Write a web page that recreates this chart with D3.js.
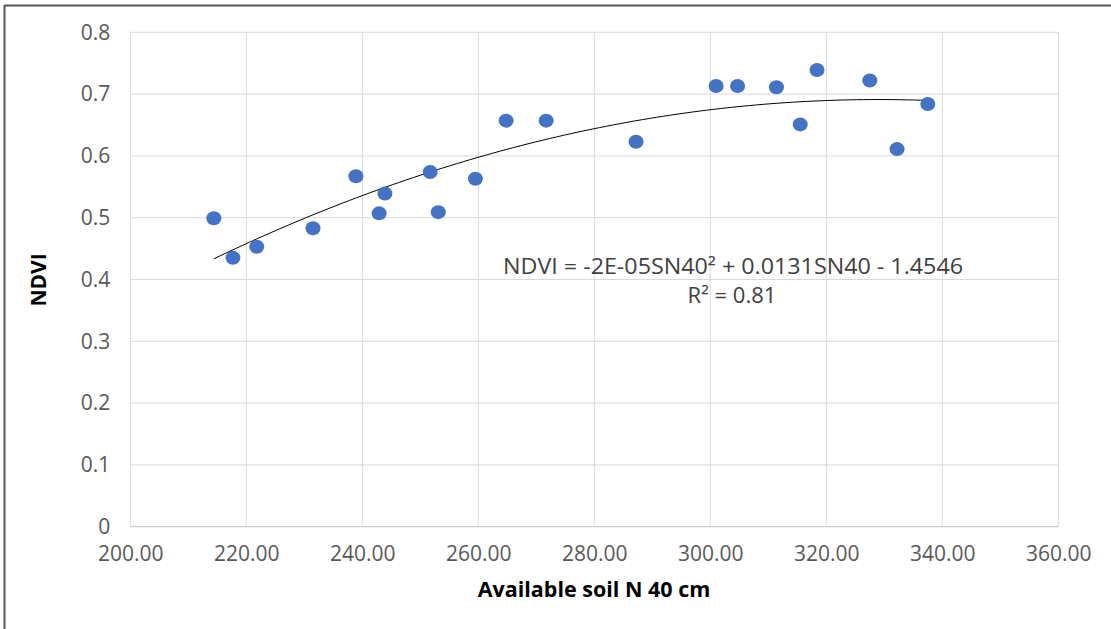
<!DOCTYPE html>
<html>
<head>
<meta charset="utf-8">
<script src="https://cdn.jsdelivr.net/npm/d3@7"></script>
<style>
body { margin: 0; background: #fff; }
text { font-family: "Open Sans", sans-serif; }
</style>
</head>
<body>
<script>
// data
var soilN = [214.4, 217.7, 221.8, 231.5, 238.9, 242.9, 243.9, 251.7, 253.1, 259.5,
             264.8, 271.7, 287.2, 301.0, 304.7, 311.4, 315.5, 318.4, 327.5, 332.2, 337.5];
var ndvi  = [0.499, 0.435, 0.453, 0.483, 0.567, 0.507, 0.539, 0.574, 0.509, 0.563,
             0.657, 0.657, 0.623, 0.713, 0.713, 0.711, 0.651, 0.739, 0.722, 0.611, 0.684];
var xTicks = [200, 220, 240, 260, 280, 300, 320, 340, 360];
var yTicks = [0, 0.1, 0.2, 0.3, 0.4, 0.5, 0.6, 0.7, 0.8];
var eqLabel = "NDVI = -2E-05SN40² + 0.0131SN40 - 1.4546";
var r2Label = "R² = 0.81";

var WIDTH = 1111, HEIGHT = 629;
var margin = {left: 130.3, top: 32.3, right: 1111 - 1058.3, bottom: 629 - 526.7};

var svg = d3.select("body").append("svg")
    .attr("width", WIDTH)
    .attr("height", HEIGHT);

// frame (top and left only, like the screenshot)
svg.append("line").attr("x1", 4.5).attr("x2", WIDTH).attr("y1", 5.5).attr("y2", 5.5)
   .attr("stroke", "#555").attr("stroke-width", 2);
svg.append("line").attr("x1", 4.5).attr("x2", 4.5).attr("y1", 5).attr("y2", HEIGHT)
   .attr("stroke", "#555").attr("stroke-width", 2);

var x = d3.scaleLinear().domain([200, 360]).range([margin.left, WIDTH - margin.right]);
var y = d3.scaleLinear().domain([0, 0.8]).range([HEIGHT - margin.bottom, margin.top]);

// gridlines
svg.append("g").selectAll("line").data(xTicks).enter().append("line")
   .attr("x1", d => x(d)).attr("x2", d => x(d))
   .attr("y1", y(0)).attr("y2", y(0.8))
   .attr("stroke", "#d9d9d9").attr("stroke-width", 1);
svg.append("g").selectAll("line").data(yTicks).enter().append("line")
   .attr("x1", x(200)).attr("x2", x(360))
   .attr("y1", d => y(d)).attr("y2", d => y(d))
   .attr("stroke", d => d === 0 ? "#bfbfbf" : "#d9d9d9").attr("stroke-width", 1);

// axes (labels only)
var xAxis = svg.append("g").attr("transform", "translate(0," + y(0) + ")")
   .call(d3.axisBottom(x).tickValues(xTicks).tickFormat(d3.format(".2f")).tickSize(0).tickPadding(19));
var yAxis = svg.append("g").attr("transform", "translate(" + x(200) + ",0)")
   .call(d3.axisLeft(y).tickValues(yTicks).tickFormat(d => d === 0 ? "0" : d3.format(".1f")(d)).tickSize(0).tickPadding(20));
[xAxis, yAxis].forEach(function(a) {
  a.select(".domain").remove();
  a.selectAll("text").attr("fill", "#595959").style("font-size", "21px")
   .style("font-family", "'Open Sans', sans-serif");
});

// polynomial (order 2) least squares trendline, like the spreadsheet
function quadFit(xs, ys) {
  var n = xs.length, s = [0,0,0,0,0], t = [0,0,0];
  for (var i = 0; i < n; i++) {
    var p = 1;
    for (var k = 0; k < 5; k++) { s[k] += p; if (k < 3) t[k] += p * ys[i]; p *= xs[i]; }
  }
  var A = [[s[0], s[1], s[2], t[0]], [s[1], s[2], s[3], t[1]], [s[2], s[3], s[4], t[2]]];
  for (var c = 0; c < 3; c++) {
    for (var r = c + 1; r < 3; r++) {
      var f = A[r][c] / A[c][c];
      for (var j = c; j < 4; j++) A[r][j] -= f * A[c][j];
    }
  }
  var b = [0,0,0];
  for (var r2 = 2; r2 >= 0; r2--) {
    var v = A[r2][3];
    for (var j2 = r2 + 1; j2 < 3; j2++) v -= A[r2][j2] * b[j2];
    b[r2] = v / A[r2][r2];
  }
  return b;
}
var coef = quadFit(soilN, ndvi);
var xmin = d3.min(soilN), xmax = d3.max(soilN);
var trend = d3.range(0, 101).map(function(i) {
  var xv = xmin + (xmax - xmin) * i / 100;
  return [xv, coef[0] + coef[1] * xv + coef[2] * xv * xv];
});
svg.append("path").datum(trend)
   .attr("d", d3.line().x(d => x(d[0])).y(d => y(d[1])))
   .attr("fill", "none").attr("stroke", "#000").attr("stroke-width", 1);

// points
svg.append("g").selectAll("ellipse").data(soilN).enter().append("ellipse")
   .attr("cx", d => x(d)).attr("cy", (d, i) => y(ndvi[i]))
   .attr("rx", 7.5).attr("ry", 7)
   .attr("fill", "#4472c4");

// equation labels
svg.append("text").attr("x", 733).attr("y", 274).attr("text-anchor", "middle")
   .attr("fill", "#404040").style("font-size", "22px")
   .attr("textLength", 460).attr("lengthAdjust", "spacingAndGlyphs").text(eqLabel);
svg.append("text").attr("x", 732).attr("y", 303).attr("text-anchor", "middle")
   .attr("fill", "#404040").style("font-size", "22px").text(r2Label);

// axis titles
svg.append("text").attr("x", 594).attr("y", 597).attr("text-anchor", "middle")
   .attr("fill", "#000").style("font-size", "21.5px").style("font-weight", "bold")
   .text("Available soil N 40 cm");
svg.append("text").attr("transform", "translate(46,280) rotate(-90)").attr("text-anchor", "middle")
   .attr("fill", "#000").style("font-size", "21px").style("font-weight", "bold")
   .text("NDVI");
</script>
</body>
</html>
